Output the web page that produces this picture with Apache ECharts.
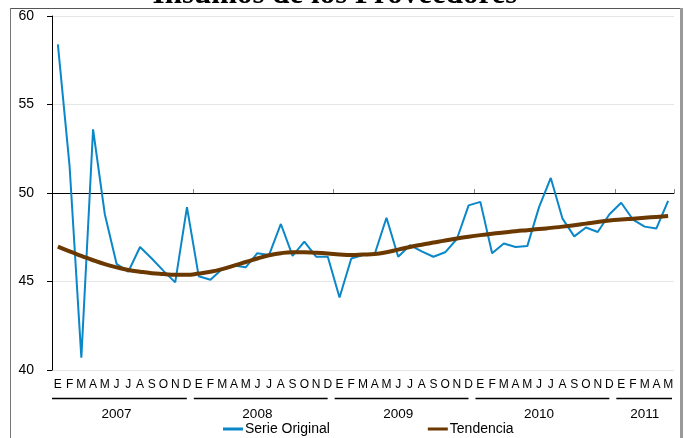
<!DOCTYPE html>
<html>
<head>
<meta charset="utf-8">
<script src="https://cdn.jsdelivr.net/npm/echarts@6/dist/echarts.min.js"></script>
<style>
html,body{margin:0;padding:0;background:#fff;}
#chart{width:685px;height:438px;}
</style>
</head>
<body>
<div id="chart"></div>
<script>
// ---- data ----
var titleText = 'Insumos de los Proveedores';
var monthLabels = ['E','F','M','A','M','J','J','A','S','O','N','D',
                   'E','F','M','A','M','J','J','A','S','O','N','D',
                   'E','F','M','A','M','J','J','A','S','O','N','D',
                   'E','F','M','A','M','J','J','A','S','O','N','D',
                   'E','F','M','A','M'];
var yearLabels = ['2007','2008','2009','2010','2011'];
var yearStart = [0, 12, 24, 36, 48];
var yearCount = [12, 12, 12, 12, 5];
var yearLabelIdx = [5, 17, 29, 41, 50];
var serieOriginal = [58.4, 51.5, 40.7, 53.6, 48.8, 46.0, 45.55, 46.95, 46.3, 45.6, 44.95, 49.2,
                     45.3, 45.1, 45.7, 45.9, 45.8, 46.6, 46.5, 48.25, 46.45, 47.25, 46.4, 46.4,
                     44.1, 46.3, 46.5, 46.55, 48.6, 46.4, 47.05, 46.7, 46.4, 46.65, 47.4, 49.3,
                     49.5, 46.6, 47.15, 46.95, 47.0, 49.2, 50.85, 48.55, 47.55, 48.05, 47.8, 48.8,
                     49.45, 48.5, 48.1, 48.0, 49.55];
var tendencia = [46.97, 46.7, 46.45, 46.2, 45.98, 45.8, 45.65, 45.55, 45.47, 45.42, 45.38, 45.38,
                 45.45, 45.55, 45.7, 45.9, 46.1, 46.3, 46.48, 46.6, 46.65, 46.65, 46.62, 46.58,
                 46.53, 46.5, 46.52, 46.55, 46.65, 46.8, 46.95, 47.08, 47.2, 47.32, 47.43, 47.53,
                 47.62, 47.7, 47.77, 47.84, 47.9, 47.96, 48.03, 48.1, 48.18, 48.27, 48.36, 48.44,
                 48.5, 48.55, 48.6, 48.65, 48.7];
var yMin = 40, yMax = 60, yStep = 5, refLine = 50;

var idx = monthLabels.map(function(_, i){ return String(i); });
var font = 'Liberation Sans, Arial, sans-serif';

var chart = echarts.init(document.getElementById('chart'), null, {renderer:'canvas'});
var gridTop = 16, gridBottom = 68;
var gridH = 438 - gridTop - gridBottom;
var refOffset = -gridH * (refLine - yMin) / (yMax - yMin);

var option = {
  animation: false,
  backgroundColor: '#fff',
  grid: {left: 52, right: 11, top: gridTop, bottom: gridBottom, containLabel: false},
  xAxis: [
    {
      type: 'category', data: idx, boundaryGap: true, position: 'bottom',
      axisLine: {show: false}, axisTick: {show: false},
      axisLabel: {interval: 0, margin: 9, fontFamily: font, fontSize: 12, color: '#000',
        formatter: function(v){ return monthLabels[+v]; }}
    },
    {
      type: 'category', data: idx, boundaryGap: true, position: 'bottom', offset: refOffset,
      axisLine: {show: true, lineStyle: {color: '#000', width: 1}},
      axisTick: {show: true, inside: true, length: 4, lineStyle: {color: '#888'},
        interval: function(i){ return i > 0 && i % 12 === 0; }},
      axisLabel: {show: false}
    },
    {
      type: 'category', data: idx, boundaryGap: true, position: 'bottom',
      axisLine: {show: false}, axisTick: {show: false},
      axisLabel: {margin: 37, fontFamily: font, fontSize: 13.5, color: '#000',
        interval: function(i){ return yearLabelIdx.indexOf(i) >= 0; },
        formatter: function(v){ var k = yearLabelIdx.indexOf(+v); return k >= 0 ? yearLabels[k] : ''; }}
    }
  ],
  yAxis: {
    type: 'value', min: yMin, max: yMax, interval: yStep,
    axisLine: {show: true, lineStyle: {color: '#000', width: 1}},
    axisTick: {show: true, length: 5, lineStyle: {color: '#000'}},
    axisLabel: {margin: 18, fontFamily: font, fontSize: 14, color: '#000'},
    splitLine: {show: true, lineStyle: {color: '#e6e6e6', width: 1}}
  },
  legend: {
    top: 417, left: 218, itemGap: 98, itemWidth: 20, itemHeight: 3,
    textStyle: {fontFamily: font, fontSize: 14, color: '#000', padding: [0, 0, 0, -3]},
    data: [
      {name: 'Serie Original', icon: 'rect', itemStyle: {color: '#0a87c8'}},
      {name: 'Tendencia', icon: 'rect', itemStyle: {color: '#6b3800'}}
    ]
  },
  series: [
    {name: 'Serie Original', type: 'line', data: serieOriginal, xAxisIndex: 0,
     symbol: 'none', showSymbol: false, lineStyle: {color: '#0a87c8', width: 2}, itemStyle: {color: '#0a87c8'}, z: 3},
    {name: 'Tendencia', type: 'line', data: tendencia, xAxisIndex: 0, smooth: true,
     symbol: 'none', showSymbol: false, lineStyle: {color: '#6b3800', width: 4}, itemStyle: {color: '#6b3800'}, z: 4}
  ]
};
chart.setOption(option);

// year separator lines, frame and cut-off title
var graphics = [];
var half = (chart.convertToPixel({xAxisIndex: 0}, '1') - chart.convertToPixel({xAxisIndex: 0}, '0')) / 2;
for (var k = 0; k < yearLabels.length; k++) {
  var s = chart.convertToPixel({xAxisIndex: 0}, String(yearStart[k])) - half;
  var e = chart.convertToPixel({xAxisIndex: 0}, String(yearStart[k] + yearCount[k] - 1)) + half;
  var last = k === yearLabels.length - 1;
  graphics.push({type: 'line', shape: {x1: s + (k === 0 ? 0 : 1), y1: 398.5, x2: e - (last ? 2 : 6), y2: 398.5},
    style: {stroke: '#000', lineWidth: 1.3}});
}
graphics.push({type: 'line', shape: {x1: 10, y1: 8.5, x2: 682, y2: 8.5}, style: {stroke: '#555', lineWidth: 1}});
graphics.push({type: 'line', shape: {x1: 10.5, y1: 8, x2: 10.5, y2: 438}, style: {stroke: '#777', lineWidth: 1}});
graphics.push({type: 'line', shape: {x1: 681.5, y1: 8, x2: 681.5, y2: 438}, style: {stroke: '#999', lineWidth: 3}});
graphics.push({type: 'text', x: 335, y: 10, z: 10, style: {text: titleText, fill: '#000',
  font: 'bold 31px "Liberation Serif", "Times New Roman", serif', textAlign: 'center', textVerticalAlign: 'bottom'}});
chart.setOption({graphic: graphics});
</script>
</body>
</html>
